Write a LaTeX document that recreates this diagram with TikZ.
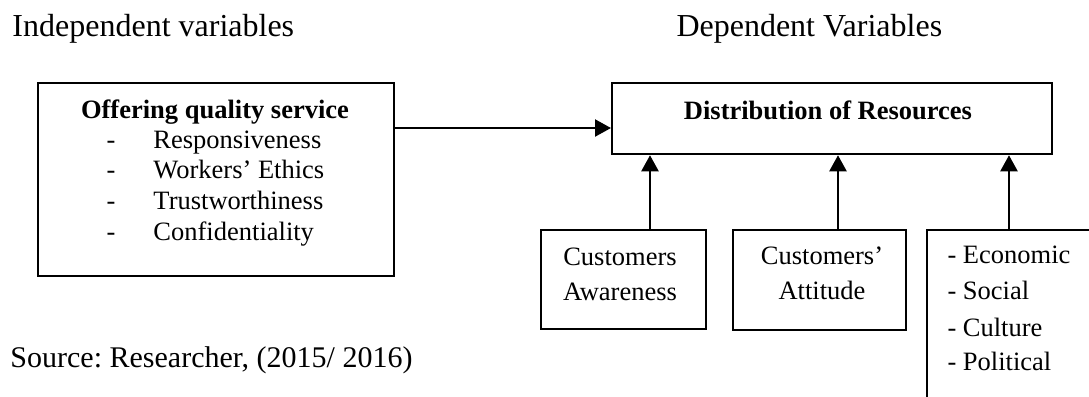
\documentclass[tikz,border=0pt]{standalone}
\usepackage{fontspec}
\setmainfont{Liberation Serif}
\usetikzlibrary{arrows.meta}
\begin{document}
\frenchspacing
\begin{tikzpicture}[x=0.4pt,y=-0.4pt,
  box/.style={draw, line width=0.9pt, inner sep=0, anchor=north west},
  txt/.style={inner sep=0, font=\fontsize{10.6}{12}\selectfont},
  head/.style={inner sep=0, font=\fontsize{12.8}{14}\selectfont},
  srctxt/.style={inner sep=0, font=\fontsize{12}{14}\selectfont},
  arr/.style={line width=0.9pt, -{Triangle[length=6.4pt,width=6.8pt]}}]
\useasboundingbox (0,0) rectangle (1089,396);
\clip (0,0) rectangle (1089,396);
% boxes
\node[box, minimum width=142.4pt, minimum height=77.2pt] (L) at (37,82) {};
\node[box, minimum width=176pt, minimum height=28.4pt] (D) at (611,82) {};
\node[box, minimum width=66pt, minimum height=39.6pt] (A) at (540,229) {};
\node[box, minimum width=69.2pt, minimum height=40pt] (T) at (732,229) {};
\node[box, minimum width=80pt, minimum height=80pt] (F) at (926,229) {};
% headings
\node[head, anchor=base west] (t1) at (12,36) {Independent variables};
\node[head, anchor=base west] (t2) at (676,36) {Dependent Variables};
\node[srctxt, anchor=base west] (src) at (10,367) {Source: Researcher, (2015/ 2016)};
% left box text
\node[txt, anchor=base] (lt) at (215,118) {\bfseries Offering quality service};
\node[txt, anchor=base west] (d1) at (106,148) {-};
\node[txt, anchor=base west] (d2) at (106,178) {-};
\node[txt, anchor=base west] (d3) at (106,209) {-};
\node[txt, anchor=base west] (d4) at (106,240) {-};
\node[txt, anchor=base west] (i1) at (153,148) {Responsiveness};
\node[txt, anchor=base west] (i2) at (153,178) {Workers’ Ethics};
\node[txt, anchor=base west] (i3) at (153,209) {Trustworthiness};
\node[txt, anchor=base west] (i4) at (153,240) {Confidentiality};
% dependent box text
\node[txt, anchor=base] (dt) at (828,119) {\bfseries Distribution of Resources};
% bottom boxes text
\node[txt, anchor=base] (a1) at (620,265) {Customers};
\node[txt, anchor=base] (a2) at (620,300) {Awareness};
\node[txt, anchor=base] (b1) at (822,264) {Customers’};
\node[txt, anchor=base] (b2) at (822,299) {Attitude};
\node[txt, anchor=base west] (f1) at (947,263) {- Economic};
\node[txt, anchor=base west] (f2) at (947,299) {- Social};
\node[txt, anchor=base west] (f3) at (947,336) {- Culture};
\node[txt, anchor=base west] (f4) at (947,370) {- Political};
% connectors
\coordinate (h) at (0,128);
\coordinate (u1) at (650,0);
\coordinate (u2) at (838,0);
\coordinate (u3) at (1009,0);
\draw[arr] (L.east |- h) -- (D.west |- h);
\draw[arr] (A.north -| u1) -- (D.south -| u1);
\draw[arr] (T.north -| u2) -- (D.south -| u2);
\draw[arr] (F.north -| u3) -- (D.south -| u3);
\end{tikzpicture}
\end{document}
